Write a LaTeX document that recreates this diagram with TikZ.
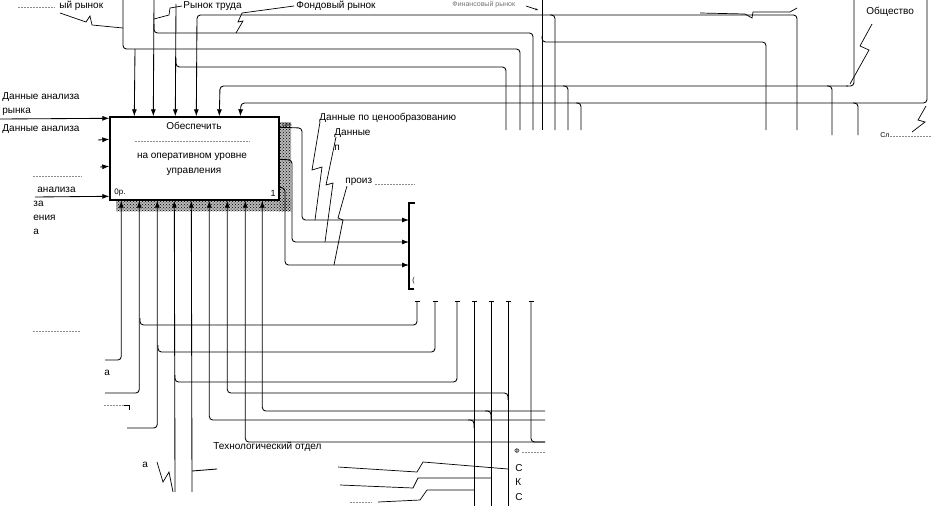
\documentclass[tikz,border=0pt]{standalone}
\usepackage{fontspec}
\setmainfont{Liberation Sans}
\usetikzlibrary{arrows.meta,patterns}
\begin{document}
\begin{tikzpicture}[x=1pt,y=-1pt,
  line width=0.85pt,
  conn/.style={draw, rounded corners=3.5pt},
  arr/.style={conn, -{Latex[length=7pt,width=5pt]}},
  leader/.style={draw, line width=0.7pt},
  lbl/.style={font=\fontsize{10}{11}\selectfont, inner sep=0pt, anchor=west},
  small/.style={font=\fontsize{7}{8}\selectfont, inner sep=0pt, anchor=west},
  faint/.style={draw=black!45, line width=0.5pt, dash pattern=on 2pt off 1pt},
  tick/.style={draw, line width=0.6pt},
]
\useasboundingbox (0,0) rectangle (931,506);

% shadow hatching of box A
\fill[black!28] (279,122) rectangle (291,211);
\fill[black!28] (116,199) rectangle (291,211);
\fill[pattern=crosshatch dots, pattern color=black] (279,122) rectangle (291,211);
\fill[pattern=crosshatch dots, pattern color=black] (116,199) rectangle (291,211);

% box A
\node[draw, line width=1.4pt, fill=white, minimum width=169pt, minimum height=83pt, inner sep=0pt] (A) at (194.5,158.5) {};
\node[lbl, anchor=center] (At1) at (194,126) {Обеспечить};
\draw[faint] (135,141) -- (250,141);
\node[lbl, anchor=center] (At2) at (192,157) {на оперативном уровне};
\node[lbl, anchor=center] (At3) at (194,172) {управления};
\node[small, font=\fontsize{8}{9}\selectfont] (Ap) at (114,193) {0р.};
\node[small, anchor=east, font=\fontsize{9}{10}\selectfont] (An) at (276,193) {1};
\node[small, font=\fontsize{5}{6}\selectfont] (Ac) at (282,125) {Цен};

% box B2 (left edge only visible)
\coordinate (B2nw) at (409,203);
\draw[line width=1.8pt] (415,203) -- (B2nw) -- (409,289) -- (414,289);
\node[small] (B2t) at (412,281) {(};

% top labels
\node[lbl] (Lt1) at (59,6) {ый рынок};
\draw[faint] (18,7) -- (55,7);
\node[lbl] (Lt2) at (183,6) {Рынок труда};
\node[lbl] (Lt3) at (296,6) {Фондовый рынок};
\node[small, text=black!55] (Lt4) at (452,5) {Финансовый рынок};
\node[lbl] (Lt5) at (866,12) {Общество};
\node[small] (Lt6) at (880,135) {Сл};
\draw[faint] (890,136) -- (931,136);

% top connectors
\draw[conn] (123,0) -- (123,49) -- (520,49) -- (520,130);
\draw[arr] (135,49) -- ([xshift=25pt]A.north west);
\draw[arr] (154,0) -- ([xshift=44pt]A.north west);
\draw[conn] (154,24) |- (533,33) -- (533,130);
\draw[arr] (176,4) -- ([xshift=66pt]A.north west);
\draw[conn] (176,58) |- (506,67) -- (506,130);
\draw[arr] (797,130) |- (197,15) -- ([xshift=87pt]A.north west);
\draw[conn] (550,15) -| (555,130);
\draw[arr] (848,86) -- (220,86) -- ([xshift=110pt]A.north west);
\draw[conn] (563,86) -| (568,130);
\draw[conn] (827,86) -| (832,135);
\draw[conn] (854,0) |- (846,86);
\draw[arr] (927,0) |- (241,103) -- ([xshift=131pt]A.north west);
\draw[conn] (576,103) -| (581,130);
\draw[conn] (853,103) -| (858,135);
\draw[conn] (542,0) -- (542,130);
\draw[conn] (542,36) |- (766,42) -- (766,130);

% top leaders
\draw[leader] (60,13) -- (86,22) -- (90,16) -- (92,25) -- (123,28);
\draw[leader] (182,6) -- (170,8) -- (169,15) -- (154,19);
\draw[leader] (294,6) -- (242,13) -- (238,22) -- (243,21) -- (236,33);
\draw[leader, -{Stealth[length=3pt]}] (526,6) -- (538,10);
\draw[leader] (700,13) -- (745,14) -- (752,18) -- (753,12) -- (790,12) -- (797,8);
\draw[leader] (872,24) -- (860,46) -- (869,50) -- (850,84);
\draw[leader] (926,106) -- (918,120) -- (925,122) -- (912,132);

% left inputs
\node[lbl] (Li1) at (2,97) {Данные анализа};
\node[lbl] (Li1b) at (2,112) {рынка};
\node[lbl] (Li2) at (2,129) {Данные анализа};
\draw[arr] (0,119) -- ([yshift=-2pt]A.north west);
\draw[arr] (98,140) -- ([yshift=-23pt]A.north west);
\draw[arr] (100,167) -- ([yshift=-50pt]A.north west);
\draw[arr] (35,197) -- ([yshift=-80pt]A.north west);
\draw[faint] (33,176) -- (82,176);
\node[lbl] (Li3) at (37,190) {анализа};
\node[lbl] (Li4) at (33,204) {за};
\node[lbl] (Li5) at (33,218) {ения};
\node[lbl] (Li6) at (33,232) {а};

% outputs of A into B2
\draw[arr] ([yshift=-11pt]A.north east) -- (302,128) -- (302,220) -- ([yshift=-17pt]B2nw);
\draw[arr] ([yshift=-43pt]A.north east) -- (292,160) -- (292,242) -- ([yshift=-39pt]B2nw);
\draw[arr] ([yshift=-71pt]A.north east) -- (285,188) -- (285,265) -- ([yshift=-62pt]B2nw);
\node[lbl] (Lo1) at (319,118) {Данные по ценообразованию};
\draw[leader] (320,122) -- (312,170) -- (322,167) -- (315,220);
\node[lbl] (Lo2) at (334,133) {Данные};
\node[lbl] (Lo2b) at (334,148) {п};
\draw[leader] (336,137) -- (326,185) -- (333,183) -- (325,242);
\node[lbl] (Lo3) at (345,182) {произ};
\draw[faint] (375,184) -- (415,184);
\draw[leader] (347,186) -- (338,218) -- (343,220) -- (334,265);

% mechanisms of A
\draw[arr] (105,360) -| ([xshift=12pt]A.south west);
\draw[arr] (105,393) -| ([xshift=30pt]A.south west);
\draw[arr] (127,428) -| ([xshift=48pt]A.south west);
\draw[arr] (175,492) -- ([xshift=65pt]A.south west);
\draw[arr] (192,492) -- ([xshift=82pt]A.south west);
\draw[arr] (545,420) -| ([xshift=100pt]A.south west);
\draw[arr] (508,400) |- (300,393) -| ([xshift=118pt]A.south west);
\draw[arr] (545,442) -| ([xshift=136pt]A.south west);
\draw[arr] (545,411) -| ([xshift=153pt]A.south west);

% mechanisms of B2
\draw[conn] (140,318) |- (417,325) -- (417,301);
\draw[conn] (158,345) |- (435,352) -- (435,301);
\draw[conn] (175,375) |- (457,382) -- (457,301);
\draw[conn] (474,301) -- (474,506);
\draw[conn] (491,301) -- (491,506);
\draw[conn] (508,301) -- (508,506);
\draw[conn] (531,301) |- (545,442);
\draw[conn] (468,420) -| (474,428);
\draw[conn] (485,411) -| (491,419);
\foreach \x in {417,435,457,474,491,508,531} \draw[tick] (\x-2.5,301) -- (\x+2.5,301);
\draw[conn] (192,471) -- (217,469);

% bottom fragments and labels
\node[lbl] (Lb1) at (104,373) {а};
\draw[faint] (104,405) -- (125,405);
\draw[leader] (124,405) -- (129,405) -- (129,410);
\draw[faint] (33,331) -- (80,331);
\node[lbl] (Lb2) at (142,465) {а};
\draw[leader] (157,462) -- (163,482) -- (169,472) -- (173,492);
\node[lbl] (Lb3) at (213,447) {Технологический отдел};
\draw[leader] (338,467) -- (417,472) -- (423,462) -- (508,469);
\draw[leader] (340,485) -- (413,488) -- (418,478) -- (491,478);
\draw[faint] (350,502) -- (372,502);
\draw[leader] (378,502) -- (420,500) -- (427,490) -- (474,490);
\node[small] (Lr1) at (514,451) {Ф};
\draw[faint] (522,452) -- (545,452);
\node[lbl] (Lr2) at (515,468) {С};
\node[lbl] (Lr3) at (515,482) {К};
\node[lbl] (Lr4) at (515,497) {С};
\end{tikzpicture}
\end{document}
